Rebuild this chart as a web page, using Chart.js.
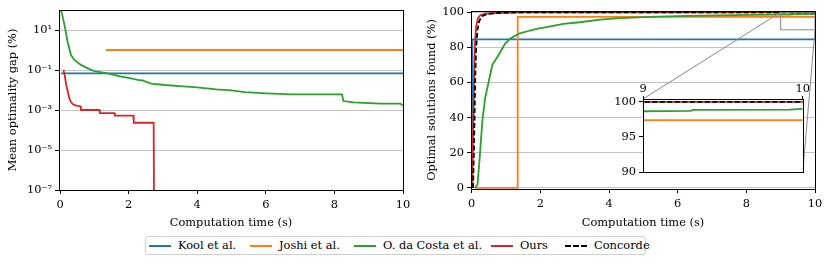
<!DOCTYPE html>
<html>
<head>
<meta charset="utf-8">
<script src="https://cdn.jsdelivr.net/npm/chart.js@4.4.0/dist/chart.umd.min.js"></script>
<style>
body{margin:0;background:#fff;}
#wrap{position:relative;width:831px;height:264px;overflow:hidden;font-family:'DejaVu Serif',serif;font-size:11.4px;color:#000;}
canvas{position:absolute;}
#legend{position:absolute;left:145px;top:236px;width:501px;height:19px;border:1px solid #d0d0d0;border-radius:3px;box-sizing:border-box;background:#fff;}
.item{position:absolute;top:0;height:17px;line-height:17px;white-space:nowrap;}
.swatch{position:absolute;top:8px;width:22px;height:0;border-top:2px solid;}
.lbl{position:absolute;left:29px;top:0;}
</style>
</head>
<body>
<div id="wrap">
<canvas id="gap" style="left:0;top:0" width="415" height="230"></canvas>
<canvas id="found" style="left:415px;top:0" width="416" height="230"></canvas>
<canvas id="inset" style="left:610px;top:80px" width="200" height="102"></canvas>
<div id="legend"></div>
</div>
<script>
// labels and colours
const methods = ["Kool et al.", "Joshi et al.", "O. da Costa et al.", "Ours", "Concorde"];
const colors = ["#1f77b4", "#ff7f0e", "#2ca02c", "#d62728", "#000000"];

// ticks
const timeTicks = [0, 2, 4, 6, 8, 10];
const gapTicks = [1e-7, 1e-5, 1e-3, 1e-1, 1e1];
const gapTickLabels = ["10\u207b\u2077", "10\u207b\u2075", "10\u207b\u00b3", "10\u207b\u00b9", "10\u00b9"];
const foundTicks = [0, 20, 40, 60, 80, 100];
const insetTimeTicks = [9, 10];
const insetFoundTicks = [90, 95, 100];

// left panel: mean optimality gap (%)
const gapKoolT = [0.03, 10];
const gapKool = [0.068, 0.068];
const gapJoshiT = [1.34, 10];
const gapJoshi = [1.0, 1.0];
const gapCostaT = [0.02, 0.13, 0.22, 0.32, 0.42, 0.61, 0.81, 1.0, 1.39, 1.78, 2.0, 2.27, 2.4, 2.66, 3.05, 3.5, 4.0, 4.56, 5.0, 5.39, 6.02, 6.75, 8.22, 8.26, 8.56, 9.34, 9.92, 10];
const gapCosta = [120, 18, 2.6, 0.56, 0.32, 0.18, 0.12, 0.089, 0.068, 0.047, 0.04, 0.032, 0.03, 0.021, 0.0178, 0.0155, 0.0135, 0.0107, 0.0095, 0.0079, 0.0068, 0.006, 0.006, 0.0028, 0.0024, 0.0021, 0.0021, 0.00166];
const gapOursT = [0.1, 0.14, 0.18, 0.23, 0.27, 0.32, 0.37, 0.45, 0.6, 0.61, 1.15, 1.16, 1.59, 1.6, 2.14, 2.15, 2.73, 2.75];
const gapOurs = [0.1, 0.05, 0.0178, 0.0079, 0.0038, 0.0025, 0.002, 0.0017, 0.0015, 0.001, 0.001, 0.0007, 0.0007, 0.00052, 0.00052, 0.00023, 0.00023, 1e-12];

// right panel: optimal solutions found (%)
const foundKoolT = [0.02, 0.02, 10];
const foundKool = [0, 84.5, 84.5];
const foundJoshiT = [0.1, 1.33, 1.34, 10];
const foundJoshi = [0, 0, 97.4, 97.4];
const foundCostaT = [0.1, 0.17, 0.24, 0.31, 0.39, 0.49, 0.6, 0.78, 0.97, 1.12, 1.4, 1.7, 1.89, 2.18, 2.67, 3.15, 3.74, 4.3, 5.2, 6.25, 7.2, 8.2, 9.0, 9.3, 9.31, 9.92, 10];
const foundCosta = [0, 2, 19, 38, 51, 60, 70, 75.5, 82, 85, 88, 89.6, 90.5, 91.5, 93.4, 94.3, 95.8, 96.6, 97.3, 97.9, 98.2, 98.5, 98.66, 98.7, 98.85, 98.9, 99.0];
const foundOursT = [0.01, 0.04, 0.07, 0.1, 0.13, 0.18, 0.25, 0.4, 0.8, 1.5, 10];
const foundOurs = [0, 30, 65, 84, 92, 96.5, 98.3, 99.2, 99.7, 100, 100];
const foundConcordeT = [0.04, 0.07, 0.1, 0.13, 0.17, 0.22, 0.3, 0.45, 0.8, 1.5, 10];
const foundConcorde = [0, 25, 60, 80, 90, 95, 97.8, 99, 99.6, 100, 100];

Chart.defaults.font.family = "'DejaVu Serif', serif";
Chart.defaults.font.size = 11.4;
Chart.defaults.color = "#000";
Chart.defaults.animation = false;
Chart.defaults.events = [];

function pts(t, v){ return t.map((x, i) => ({x: x, y: v[i]})); }

function line(idx, t, v){
  return {
    label: methods[idx],
    data: pts(t, v),
    borderColor: colors[idx],
    borderWidth: 1.8,
    borderDash: idx === 4 ? [5, 2.5] : [],
    pointRadius: 0,
    fill: false,
    tension: 0,
    order: 5 - idx
  };
}

function setTicks(list){
  return function(scale){ scale.ticks = list.map(v => ({value: v})); };
}

const spines = {
  id: "spines",
  beforeDraw(chart, args, opts){
    if (opts.fill) {
      const a = chart.chartArea, c = chart.ctx;
      c.save(); c.fillStyle = "#fff";
      c.fillRect(a.left, a.top, a.right - a.left, a.bottom - a.top);
      c.restore();
    }
  },
  afterDraw(chart){
    const a = chart.chartArea, c = chart.ctx;
    c.save();
    c.strokeStyle = "#000"; c.lineWidth = 1;
    c.strokeRect(Math.round(a.left) + 0.5, Math.round(a.top) + 0.5, Math.round(a.right - a.left), Math.round(a.bottom - a.top));
    c.restore();
  }
};

function timeAxis(min, max, ticks, h){
  return {
    type: "linear", min: min, max: max,
    afterBuildTicks: setTicks(ticks),
    afterFit(s){ s.height = h; },
    ticks: {padding: 4, maxRotation: 0, callback: v => String(v)},
    grid: {drawOnChartArea: false, tickLength: 4, tickColor: "#000"},
    border: {display: false},
    title: {display: true, text: "Computation time (s)", padding: {top: 0, bottom: 0}}
  };
}

// left chart
new Chart(document.getElementById("gap"), {
  type: "line",
  data: {datasets: [
    line(0, gapKoolT, gapKool),
    line(1, gapJoshiT, gapJoshi),
    line(2, gapCostaT, gapCosta),
    line(3, gapOursT, gapOurs)
  ]},
  options: {
    responsive: false,
    layout: {padding: {top: 10, right: 12, left: 0, bottom: 0}},
    plugins: {legend: {display: false}, tooltip: {enabled: false}},
    scales: {
      x: timeAxis(-0.03, 10, timeTicks, 40),
      y: {
        type: "logarithmic", min: 1e-7, max: 1e2,
        afterBuildTicks: setTicks(gapTicks),
        afterFit(s){ s.width = 59; },
        ticks: {padding: 3, callback: v => gapTickLabels[gapTicks.indexOf(v)]},
        grid: {color: "#c4c4c4", tickLength: 4, tickColor: "#000"},
        border: {display: false},
        title: {display: true, text: "Mean optimality gap (%)", padding: {top: 6, bottom: 0}}
      }
    }
  },
  plugins: [spines]
});

// inset
const inset = new Chart(document.getElementById("inset"), {
  type: "line",
  data: {datasets: [
    line(0, foundKoolT, foundKool),
    line(1, foundJoshiT, foundJoshi),
    line(2, foundCostaT, foundCosta),
    line(3, foundOursT, foundOurs),
    line(4, foundConcordeT, foundConcorde)
  ]},
  options: {
    responsive: false,
    layout: {padding: {top: 0, right: 3, left: 0, bottom: 1}},
    plugins: {legend: {display: false}, tooltip: {enabled: false}, spines: {fill: true}},
    scales: {
      x: {
        type: "linear", position: "top", min: 9, max: 10,
        afterBuildTicks: setTicks(insetTimeTicks),
        afterFit(s){ s.height = 19; },
        ticks: {padding: 0, maxRotation: 0},
        grid: {drawOnChartArea: false, tickLength: 3, tickColor: "#000"},
        border: {display: false}
      },
      y: {
        min: 90, max: 100.4,
        afterBuildTicks: setTicks(insetFoundTicks),
        afterFit(s){ s.width = 33; },
        ticks: {padding: 3},
        grid: {drawOnChartArea: false, tickLength: 4, tickColor: "#000"},
        border: {display: false}
      }
    }
  },
  plugins: [spines]
});

const insetLeft = 610 - 415, insetTop = 80;

const zoomMarks = {
  id: "zoomMarks",
  afterDatasetsDraw(chart){
    const c = chart.ctx, sx = chart.scales.x, sy = chart.scales.y;
    const x9 = sx.getPixelForValue(9), x10 = sx.getPixelForValue(10);
    const y100 = sy.getPixelForValue(100), y90 = sy.getPixelForValue(90);
    const ia = inset.chartArea;
    c.save();
    c.strokeStyle = "#888"; c.lineWidth = 1;
    c.strokeRect(x9, y100, x10 - x9, y90 - y100);
    c.beginPath();
    c.moveTo(x9, y100); c.lineTo(insetLeft + ia.left, insetTop + ia.top);
    c.moveTo(x10, y90); c.lineTo(insetLeft + ia.right, insetTop + ia.bottom);
    c.stroke();
    c.restore();
  }
};

// right chart
new Chart(document.getElementById("found"), {
  type: "line",
  data: {datasets: [
    line(0, foundKoolT, foundKool),
    line(1, foundJoshiT, foundJoshi),
    line(2, foundCostaT, foundCosta),
    line(3, foundOursT, foundOurs),
    line(4, foundConcordeT, foundConcorde)
  ]},
  options: {
    responsive: false,
    layout: {padding: {top: 11, right: 16, left: 0, bottom: 0}},
    plugins: {legend: {display: false}, tooltip: {enabled: false}},
    scales: {
      x: timeAxis(-0.02, 10, timeTicks, 41),
      y: {
        min: -0.6, max: 100.7,
        afterBuildTicks: setTicks(foundTicks),
        afterFit(s){ s.width = 56; },
        ticks: {padding: 3},
        grid: {color: "#c4c4c4", tickLength: 4, tickColor: "#000"},
        border: {display: false},
        title: {display: true, text: "Optimal solutions found (%)", padding: {top: 10, bottom: 0}}
      }
    }
  },
  plugins: [spines, zoomMarks]
});

// legend
const legendX = [3, 104, 208, 345, 419];
const legend = document.getElementById("legend");
methods.forEach((m, i) => {
  const it = document.createElement("div");
  it.className = "item";
  it.style.left = legendX[i] + "px";
  const sw = document.createElement("span");
  sw.className = "swatch";
  sw.style.borderTopColor = colors[i];
  if (i === 4) sw.style.borderTopStyle = "dashed";
  const tx = document.createElement("span");
  tx.className = "lbl";
  tx.textContent = m;
  it.appendChild(sw); it.appendChild(tx);
  legend.appendChild(it);
});
</script>
</body>
</html>
